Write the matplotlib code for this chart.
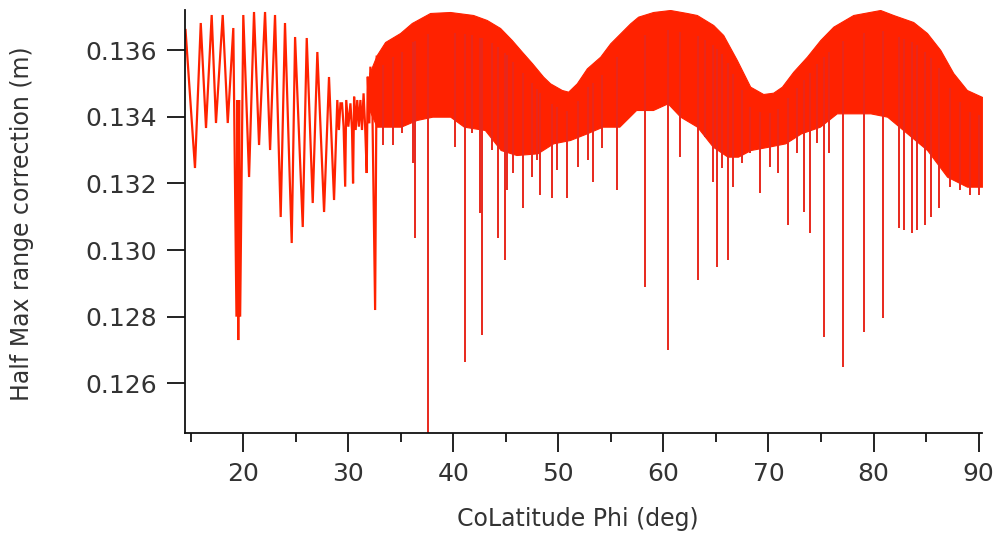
import numpy as np
import matplotlib
matplotlib.use("Agg")
import matplotlib.pyplot as plt

# ---------------- data ----------------
# Sparse, resolvable part of the trace (CoLatitude deg, correction m)
sparse_x = [14.50, 15.40, 15.95, 16.45, 16.99, 17.40, 18.04, 18.52, 19.05,
            19.35, 19.45, 19.52, 19.60, 19.70, 20.00, 20.55, 21.02, 21.50,
            22.07, 22.55, 23.02, 23.56, 23.97, 24.61, 24.93, 25.66, 26.04,
            26.61, 27.05, 27.69, 28.16, 28.64, 28.95, 29.10, 29.25, 29.40,
            29.55, 29.70, 29.80, 30.00, 30.20, 30.35, 30.45, 30.55, 30.70,
            30.85, 31.00, 31.15, 31.30, 31.45, 31.60, 31.75, 31.85, 32.00,
            32.10, 32.30, 32.55, 32.70]
sparse_y = [0.13660, 0.13246, 0.13681, 0.13366, 0.13705, 0.13381, 0.13705,
            0.13381, 0.13666, 0.12800, 0.13450, 0.12730, 0.13450, 0.12800,
            0.13705, 0.13219, 0.13714, 0.13315, 0.13714, 0.13300, 0.13705,
            0.13099, 0.13681, 0.13021, 0.13639, 0.13069, 0.13636, 0.13141,
            0.13594, 0.13114, 0.13519, 0.13150, 0.13450, 0.13360, 0.13440,
            0.13440, 0.13370, 0.13190, 0.13450, 0.13370, 0.13440, 0.13360,
            0.13200, 0.13460, 0.13360, 0.13450, 0.13370, 0.13450, 0.13360,
            0.13470, 0.13370, 0.13231, 0.13520, 0.13380, 0.13550, 0.13400,
            0.12820, 0.13580]

# Dense part: upper envelope of the oscillation
upper_x = [32.00, 32.71, 33.50, 34.93, 36.04, 37.78, 39.69, 41.88, 43.18,
           44.45, 45.56, 46.52, 47.50, 48.55, 49.21, 50.33, 50.93, 51.75,
           52.71, 53.98, 54.93, 55.88, 56.83, 57.59, 59.02, 60.64, 62.23,
           63.18, 64.74, 65.69, 66.99, 68.26, 69.50, 70.45, 71.28, 72.36,
           73.66, 74.93, 76.17, 78.07, 80.64, 81.88, 83.78, 85.09, 86.36,
           87.59, 88.89, 90.35]
upper_y = [0.13530, 0.13585, 0.13624, 0.13651, 0.13681, 0.13711, 0.13714,
           0.13705, 0.13690, 0.13666, 0.13630, 0.13595, 0.13560, 0.13520,
           0.13500, 0.13480, 0.13475, 0.13500, 0.13545, 0.13580, 0.13620,
           0.13650, 0.13680, 0.13700, 0.13714, 0.13720, 0.13711, 0.13705,
           0.13675, 0.13645, 0.13570, 0.13490, 0.13468, 0.13472, 0.13490,
           0.13535, 0.13580, 0.13630, 0.13670, 0.13705, 0.13720, 0.13705,
           0.13684, 0.13651, 0.13600, 0.13531, 0.13480, 0.13459]

# Dense part: lower edge of the solid band
lower_x = [32.00, 32.70, 33.50, 35.00, 36.50, 38.00, 39.70, 41.00, 43.00,
           44.50, 46.00, 48.00, 49.50, 51.10, 52.70, 54.20, 55.80, 57.40,
           59.00, 60.40, 61.60, 63.20, 64.70, 66.10, 67.10, 68.30, 70.00,
           71.60, 73.10, 74.90, 76.50, 78.10, 79.70, 81.30, 83.20, 85.10,
           87.00, 88.90, 90.35]
lower_y = [0.13420, 0.13370, 0.13370, 0.13370, 0.13390, 0.13400, 0.13400,
           0.13370, 0.13360, 0.13300, 0.13285, 0.13290, 0.13320, 0.13330,
           0.13350, 0.13370, 0.13370, 0.13420, 0.13420, 0.13440, 0.13400,
           0.13370, 0.13310, 0.13280, 0.13280, 0.13300, 0.13310, 0.13320,
           0.13350, 0.13370, 0.13410, 0.13410, 0.13410, 0.13400, 0.13350,
           0.13300, 0.13220, 0.13190, 0.13190]

# Individual downward spikes below the band (position, minimum)
spike_x = [33.31, 34.26, 35.09, 36.16, 36.35, 37.62, 40.16, 41.12, 41.75,
           42.55, 42.71, 43.66, 44.29, 44.93, 45.09, 45.72, 46.67, 47.47,
           47.95, 48.26, 49.37, 49.85, 50.80, 51.91, 52.86, 53.34, 54.13,
           55.56, 58.20, 60.48, 61.59, 63.28, 63.97, 64.76, 65.09, 65.56,
           66.10, 66.67, 67.47, 68.26, 69.21, 70.16, 70.95, 71.90, 72.70,
           73.40, 73.97, 74.61, 75.24, 75.72, 77.05, 79.05, 80.86, 82.38,
           82.93, 83.66, 84.13, 84.93, 85.47, 86.19, 87.31, 88.26, 89.21,
           90.00]
spike_y = [0.13315, 0.13315, 0.13351, 0.13261, 0.13036, 0.12400, 0.13309,
           0.12664, 0.13351, 0.13111, 0.12745, 0.13300, 0.13036, 0.12970,
           0.13180, 0.13231, 0.13126, 0.13219, 0.13270, 0.13165, 0.13156,
           0.13240, 0.13156, 0.13249, 0.13270, 0.13204, 0.13306, 0.13180,
           0.12889, 0.12700, 0.13279, 0.12910, 0.13339, 0.13204, 0.12949,
           0.13246, 0.12970, 0.13189, 0.13261, 0.13291, 0.13171, 0.13249,
           0.13231, 0.13075, 0.13291, 0.13114, 0.13051, 0.13321, 0.12739,
           0.13291, 0.12649, 0.12754, 0.12796, 0.13066, 0.13060, 0.13051,
           0.13060, 0.13075, 0.13099, 0.13126, 0.13189, 0.13180, 0.13165,
           0.13165]

x_ticks = [20, 30, 40, 50, 60, 70, 80, 90]
x_minor = [15, 25, 35, 45, 55, 65, 75, 85]
y_ticks = [0.126, 0.128, 0.130, 0.132, 0.134, 0.136]

# ---------------- drawing ----------------
RED = "#ff2200"
SPIKE = "#e8281c"
plt.rcParams["font.family"] = ["DejaVu Sans"]

fig = plt.figure(figsize=(10.02, 5.33), dpi=100)
ax = fig.add_axes([185 / 1002, 1 - 432.7 / 533, 796.7 / 1002, 422.7 / 533])

ax.plot(sparse_x, sparse_y, color=RED, lw=1.6, solid_joinstyle="miter")

band_x = np.union1d(upper_x, lower_x)
band_top = np.interp(band_x, upper_x, upper_y)
band_bot = np.interp(band_x, lower_x, lower_y)
ax.fill_between(band_x, band_bot, band_top, color=RED, lw=0.8,
                edgecolor=RED)

ax.vlines(spike_x, spike_y, np.interp(spike_x, upper_x, upper_y) - 0.0006,
          color=SPIKE, lw=1.4)

ax.set_xlim(14.45, 90.3)
ax.set_ylim(0.12452, 0.13720)
ax.set_xticks(x_ticks)
ax.set_xticks(x_minor, minor=True)
ax.set_yticks(y_ticks)
ax.set_yticklabels([f"{v:.3f}" for v in y_ticks])

for s in ["top", "right"]:
    ax.spines[s].set_visible(False)
for s in ["left", "bottom"]:
    ax.spines[s].set_linewidth(1.3)
    ax.spines[s].set_color("#111111")

ax.tick_params(axis="x", which="major", length=14, width=1.3, pad=7,
               labelsize=18, colors="#111111", labelcolor="#333333")
ax.tick_params(axis="x", which="minor", length=6.5, width=1.3,
               colors="#111111")
ax.tick_params(axis="y", which="major", length=13, width=1.3, pad=7,
               labelsize=18, colors="#111111", labelcolor="#333333")

fig.text(578 / 1002, 1 - 519 / 533, "CoLatitude Phi (deg)", ha="center",
         va="center", fontsize=17, color="#333333")
fig.text(22 / 1002, 1 - 224 / 533, "Half Max range correction (m)",
         ha="center", va="center", rotation=90, fontsize=17, color="#333333")

fig.savefig("out.png", dpi=100)
